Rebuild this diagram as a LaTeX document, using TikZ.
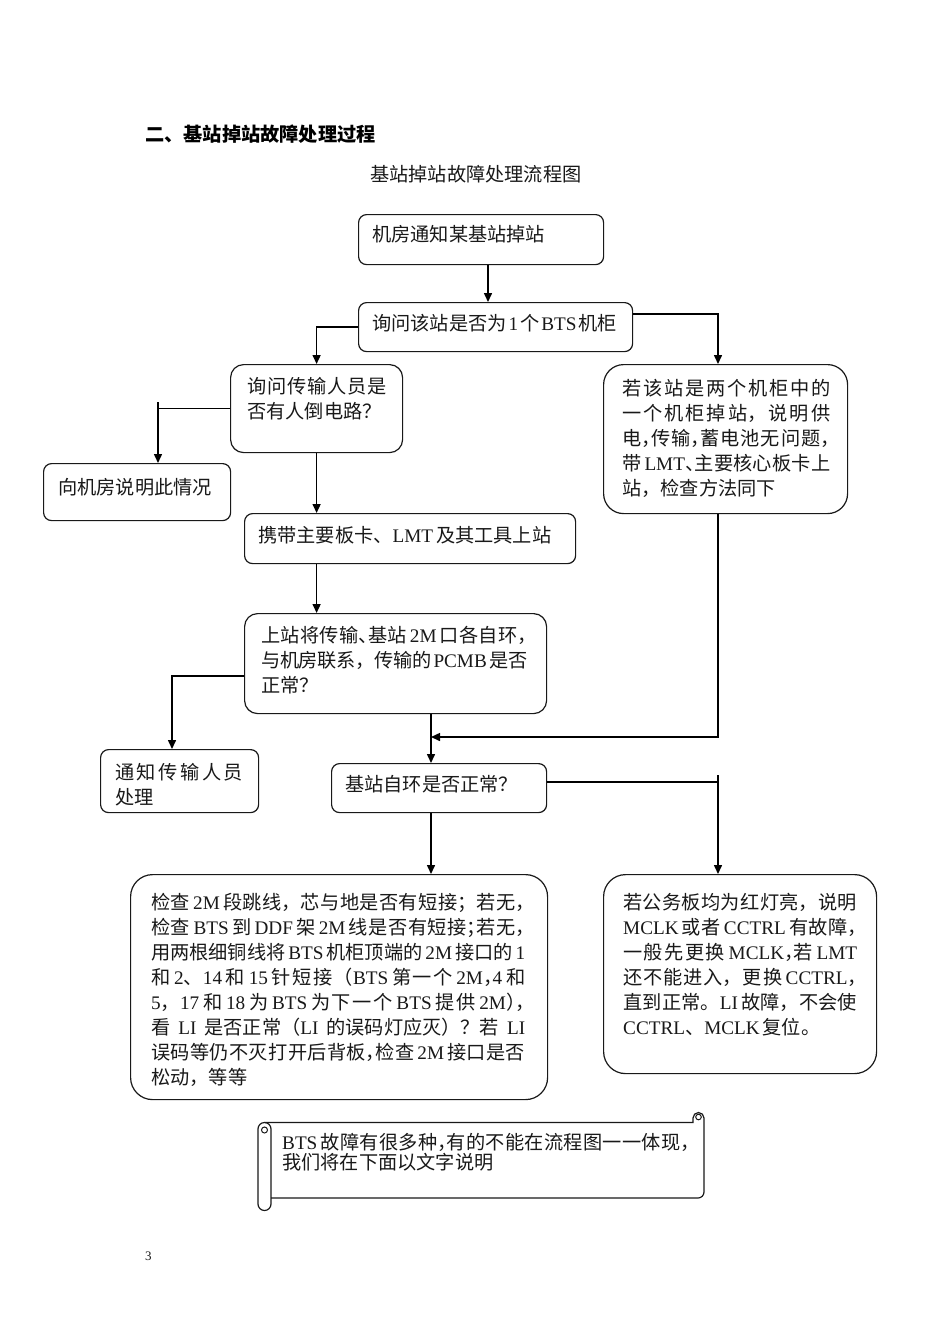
\documentclass[tikz,border=0pt]{standalone}
\usepackage{fontspec}
\setmainfont{Liberation Serif}
\newfontfamily\cjk{Noto Sans CJK SC}
\newfontfamily\enfont{Liberation Serif}
\usetikzlibrary{arrows.meta}
\XeTeXlinebreaklocale "zh"
\XeTeXlinebreakskip=0pt plus 3pt minus 0.6pt
\tolerance=10000
\hbadness=10000
\hfuzz=20pt
\newcommand\en[1]{{\enfont #1}}
\newcommand\gap{\hskip 3pt plus 1.5pt minus 1pt\relax}
\newcommand\hc[1]{\makebox[0.5em][l]{#1}}
\definecolor{ink}{RGB}{25,25,25}
\tikzset{
  box/.style={draw=black!90, line width=1.2pt, inner sep=0pt, anchor=north west},
  txt/.style={inner sep=0pt, anchor=north west, text=ink,
    font=\cjk\fontsize{19.2}{25}\selectfont, align=left},
  jtxt/.style={txt, align=justify, text width=#1},
  link/.style={line width=1.5pt, draw=black},
  arr/.style={link, -{Triangle[length=9pt,width=8pt]}},
}
\begin{document}
\begin{tikzpicture}[x=1pt,y=-1pt]
\path[fill=white] (0,0) rectangle (950,1344);
\useasboundingbox (0,0) rectangle (950,1344);

% column / row helpers
\coordinate (X488) at (488,0);
\coordinate (X158) at (158,0);
\coordinate (X172) at (172,0);
\coordinate (X431) at (431,0);
\coordinate (X718) at (718,0);
\coordinate (Y314) at (0,314);
\coordinate (Y402) at (0,402);
\coordinate (Y676) at (0,676);
\coordinate (Y737) at (0,737);
\coordinate (Y775) at (0,775);
\coordinate (Y782) at (0,782);

% headings
\node[txt, font=\cjk\bfseries\fontsize{19.2}{25}\selectfont, text=black] (title) at (145,124.5) {二、基站掉站故障处理过程};
\node[txt] (subtitle) at (370,165) {基站掉站故障处理流程图};

% boxes
\node[box, rounded corners=8pt, minimum width=245pt, minimum height=50pt] (b1) at (358,214) {};
\node[box, rounded corners=8pt, minimum width=274pt, minimum height=49pt] (b2) at (358,302) {};
\node[box, rounded corners=13pt, minimum width=172pt, minimum height=88pt] (b3) at (230,364) {};
\node[box, rounded corners=20pt, minimum width=244pt, minimum height=149pt] (b4) at (603,364) {};
\node[box, rounded corners=8pt, minimum width=187pt, minimum height=57pt] (b5) at (43,463) {};
\node[box, rounded corners=8pt, minimum width=331pt, minimum height=50pt] (b6) at (244,513) {};
\node[box, rounded corners=13pt, minimum width=302pt, minimum height=100pt] (b7) at (244,613) {};
\node[box, rounded corners=8pt, minimum width=158pt, minimum height=63pt] (b8) at (100,749) {};
\node[box, rounded corners=8pt, minimum width=215pt, minimum height=49pt] (b9) at (331,763) {};
\node[box, rounded corners=22pt, minimum width=417pt, minimum height=225pt] (b10) at (130,874) {};
\node[box, rounded corners=22pt, minimum width=273pt, minimum height=199pt] (b11) at (603,874) {};

% texts
\node[txt] (t1) at (372,225) {机房通知某基站掉站};
\node[txt] (t2) at (372,314) {询问该站是否为\hskip2pt\en{1}\hskip2pt 个\hskip2pt\en{BTS}\hskip2pt 机柜};
\node[jtxt=140pt] (t3) at (247,377) {询问传输人员是\linebreak 否有人倒电路？};
\node[jtxt=208pt] (t4) at (622,379) {若该站是两个机柜中的\linebreak 一个机柜掉站，说明供\linebreak 电\hc{，}传输\hc{，}蓄电池无问题\hc{，}\linebreak 带\gap\en{LMT}\hc{、}主要核心板卡上\linebreak 站，检查方法同下};
\node[txt] (t5) at (58,478) {向机房说明此情况};
\node[txt] (t6) at (258,526) {携带主要板卡、\en{LMT}\gap 及其工具上站};
\node[jtxt=266pt] (t7) at (261,626) {上站将传输\hc{、}基站\gap\en{2M}\gap 口各自环\hc{，}\linebreak 与机房联系，传输的\gap\en{PCMB}\gap 是否\linebreak 正常？};
\node[jtxt=128pt] (t8) at (115,763) {通知传输人员\linebreak 处理};
\node[txt] (t9) at (345,775) {基站自环是否正常？};
\node[jtxt=374pt] (t10) at (151,893) {检查\gap\en{2M}\gap 段跳线，芯与地是否有短接；若无\hc{，}\linebreak
检查\gap\en{BTS}\gap 到\gap\en{DDF}\gap 架\gap\en{2M}\gap 线是否有短接\hc{；}若无\hc{，}\linebreak
用两根细铜线将\gap\en{BTS}\gap 机柜顶端的\gap\en{2M}\gap 接口的\gap\en{1}\linebreak
和\gap\en{2}、\en{14}\gap 和\gap\en{15}\gap 针短接（\en{BTS}\gap 第一个\gap\en{2M}\hc{，}\en{4}\gap 和\linebreak
\en{5}，\en{17}\gap 和\gap\en{18}\gap 为\gap\en{BTS}\gap 为下一个\gap\en{BTS}\gap 提供\gap\en{2M}\hc{）}\hc{，}\linebreak
看\hskip 8pt plus 2pt\en{LI}\hskip 8pt plus 2pt 是否正常（\en{LI}\hskip 8pt plus 2pt 的误码灯应灭）？若\hskip 8pt plus 2pt\en{LI}\linebreak
误码等仍不灭打开后背板\hc{，}检查\gap\en{2M}\gap 接口是否\linebreak
松动，等等};
\node[jtxt=234pt] (t11) at (623,893) {若公务板均为红灯亮，说明\linebreak
\en{MCLK}\gap 或者\gap\en{CCTRL}\gap 有故障\hc{，}\linebreak
一般先更换\gap\en{MCLK}\hc{，}若\gap\en{LMT}\linebreak
还不能进入，更换\gap\en{CCTRL}\hc{，}\linebreak
直到正常。\en{LI}\gap 故障，不会使\linebreak
\en{CCTRL}、\en{MCLK}\gap 复位。};

% scroll
\draw[line width=1.2pt, black!90] (258,1204) -- (258,1129) arc[start angle=180,end angle=360,radius=6.5] -- (271,1204) arc[start angle=0,end angle=180,radius=6.5];
\draw[line width=1pt, black!90] (264.5,1130) circle[radius=3];
\draw[line width=1.2pt, black!90] (264.5,1122.5) -- (693,1122.5) -- (693,1118) arc[start angle=180,end angle=360,radius=5.5] -- (704,1192) arc[start angle=0,end angle=90,radius=6] -- (271,1198);
\draw[line width=1pt, black!90] (698.5,1117) circle[radius=2.8];
\node[txt, font=\cjk\fontsize{19.2}{20}\selectfont, align=justify, text width=408pt] (t12) at (282,1133) {\en{BTS}\gap 故障有很多种\hc{，}有的不能在流程图一一体现\hc{，}\linebreak 我们将在下面以文字说明};

% page number
\node[txt, font=\enfont\fontsize{13}{15}\selectfont] (pg) at (145,1252) {3};

% connectors
\draw[arr] (b1.south -| X488) -- (b2.north -| X488);
\draw[arr] (b2.west) -| (b3.north);
\draw[arr] (b2.east |- Y314) -| (b4.north -| X718);
\draw[link] (b3.west) -- (b3.west -| X158);
\draw[arr] (X158 |- Y402) -- (b5.north -| X158);
\draw[arr] (b3.south) -- (b6.north -| b3.south);
\draw[arr] (b6.south -| b3.south) -- (b7.north -| b3.south);
\draw[arr] (b7.west |- Y676) -| (b8.north -| X172);
\draw[arr] (b7.south -| X431) -- (b9.north -| X431);
\draw[arr] (b4.south -| X718) |- (X431 |- Y737);
\draw[link] (b9.east |- Y782) -- (X718 |- Y782);
\draw[arr] (X718 |- Y775) -- (b11.north -| X718);
\draw[arr] (b9.south -| X431) -- (b10.north -| X431);
\end{tikzpicture}
\end{document}
